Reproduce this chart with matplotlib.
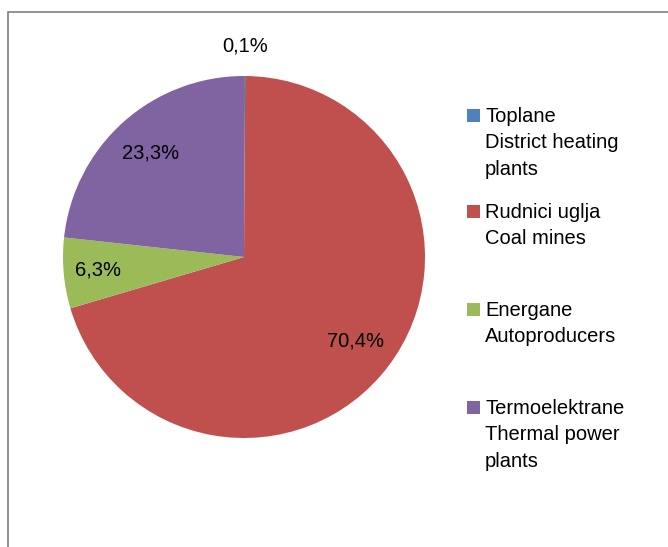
import numpy as np
import matplotlib.pyplot as plt
from matplotlib.patches import Rectangle

plt.rcParams['font.family'] = ['Liberation Sans', 'DejaVu Sans']

# podaci
labels = ['Toplane\nDistrict heating\nplants',
          'Rudnici uglja\nCoal mines',
          'Energane\nAutoproducers',
          'Termoelektrane\nThermal power\nplants']
shares = [0.1, 70.4, 6.3, 23.3]
pct_labels = ['0,1%', '70,4%', '6,3%', '23,3%']
colors = ['#4F81BD', '#C0504D', '#9BBB59', '#8064A2']

W, H = 668, 547
fig = plt.figure(figsize=(W / 100, H / 100), dpi=100)

# okvir grafikona (izlazi preko desnog i donjeg ruba)
fig.patches.append(Rectangle((8 / W, -0.1), 1.2, 1.1 - 11.5 / H, transform=fig.transFigure,
                             fill=False, edgecolor='#888888', linewidth=1.3))

# pita: centar (244, 257), radijus 181 px
cx, cy, r = 244, 257, 181
ax = fig.add_axes([(cx - r) / W, (H - cy - r) / H, 2 * r / W, 2 * r / H])
wedges, _ = ax.pie(shares, colors=colors, startangle=90, counterclock=False,
                   radius=1, wedgeprops=dict(linewidth=0))
ax.set_xlim(-1, 1)
ax.set_ylim(-1, 1)
ax.set_aspect('equal')
ax.axis('off')

# oznake postotaka
fs = 14.5
dist = [1.166, 0.77, 0.81, 0.77]
for w, txt, d in zip(wedges, pct_labels, dist):
    ang = np.deg2rad((w.theta1 + w.theta2) / 2)
    ax.text(d * np.cos(ang), d * np.sin(ang), txt, fontsize=fs,
            ha='center', va='center', clip_on=False)

# legenda
sq = 13
tops = [109, 205, 303, 401]
for lab, col, top in zip(labels, colors, tops):
    fig.patches.append(Rectangle((467 / W, (H - top - sq) / H), sq / W, sq / H,
                                 transform=fig.transFigure, facecolor=col, edgecolor='none'))
    fig.text(485 / W, (H - top + 2) / H, lab, fontsize=fs, ha='left', va='top',
             linespacing=1.5)

fig.savefig('out.png', dpi=100)
